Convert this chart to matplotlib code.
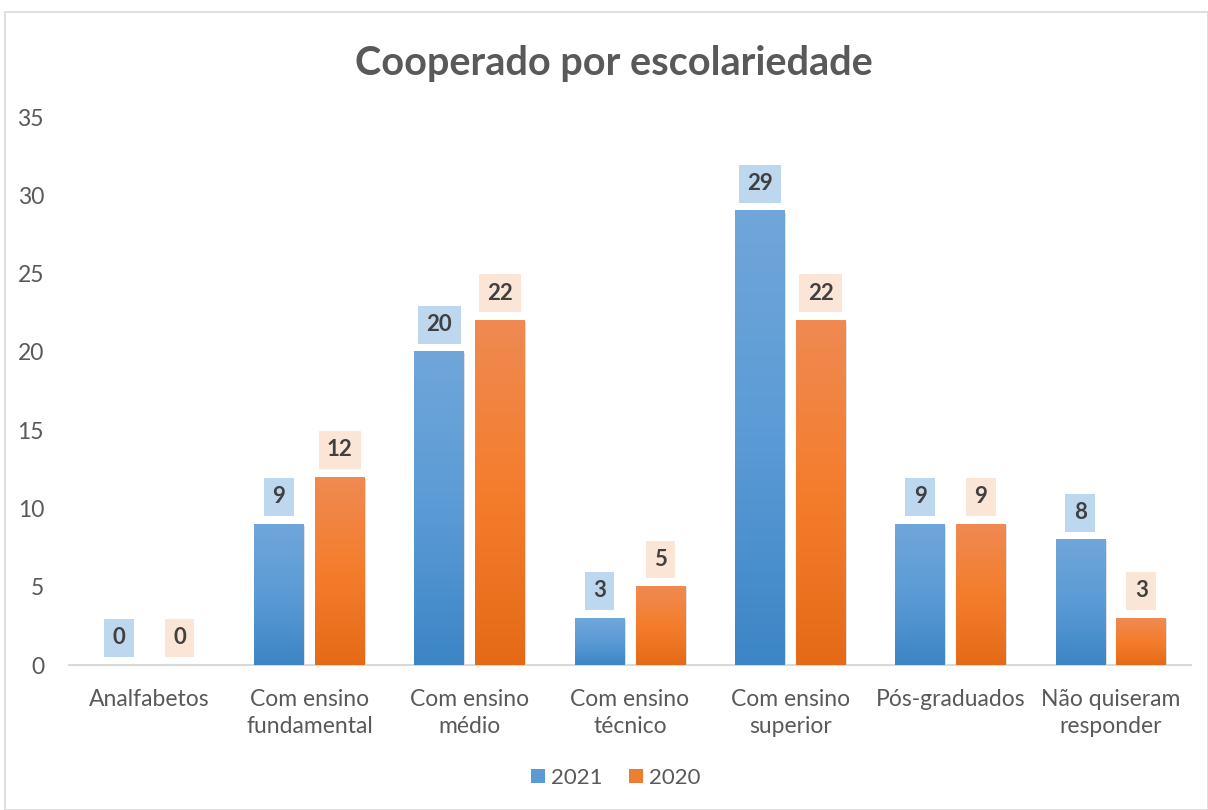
import numpy as np
import matplotlib.pyplot as plt
from matplotlib.patches import Rectangle
from matplotlib.colors import LinearSegmentedColormap

categorias = ['Analfabetos', 'Com ensino\nfundamental', 'Com ensino\nmédio', 'Com ensino\ntécnico',
              'Com ensino\nsuperior', 'Pós-graduados', 'Não quiseram\nresponder']
v2021 = [0, 9, 20, 3, 29, 9, 8]
v2020 = [0, 12, 22, 5, 22, 9, 3]
series = ['2021', '2020']

plt.rcParams['font.family'] = ['Lato', 'DejaVu Sans']

fig = plt.figure(figsize=(12.08, 8.10), dpi=100)
ax = fig.add_axes([69 / 1208, 1 - 665 / 810, 1122 / 1208, (665 - 117) / 810])

# moldura do gráfico
fig.patches.append(Rectangle((5 / 1208, 0), 1 - 5 / 1208, 1 - 12 / 810, transform=fig.transFigure,
                             fill=False, edgecolor='#d9d9d9', linewidth=1.2))

x = np.arange(len(categorias))
w = 0.31
off = 0.19

azul = LinearSegmentedColormap.from_list('az', ['#3d85c6', '#5b9bd5', '#70a6da'])
laranja = LinearSegmentedColormap.from_list('la', ['#e56a17', '#f47d2c', '#ef8a52'])
grad = np.linspace(0, 1, 256).reshape(-1, 1)

def barras(pos, vals, cmap, cor, caixa):
    bars = ax.bar(pos, vals, w, color=cor, zorder=2)
    for b, v in zip(bars, vals):
        x0 = b.get_x()
        if v > 0:
            # sombra leve
            ax.add_patch(Rectangle((x0 + 0.008, 0), w, v - 0.1, color='#000000', alpha=0.12, zorder=1.5,
                                   linewidth=0))
            ax.imshow(grad, cmap=cmap, extent=[x0, x0 + w, 0, v], origin='lower', aspect='auto', zorder=3)
        ax.annotate(str(v), (x0 + w / 2, v), xytext=(0, 12), textcoords='offset points',
                    ha='center', va='bottom', fontsize=16, fontweight='bold', color='#404040',
                    bbox=dict(boxstyle='square,pad=0.38', fc=caixa, ec='none'), zorder=4)
    return bars

b1 = barras(x - off, v2021, azul, '#5b9bd5', '#bdd7ee')
b2 = barras(x + off, v2020, laranja, '#ed7d31', '#fbe5d6')

ax.set_xlim(-0.5, len(categorias) - 0.5)
ax.set_ylim(0, 35)
ax.set_yticks(range(0, 36, 5))
ax.set_xticks(x)
ax.set_xticklabels(categorias, linespacing=1.4)
ax.tick_params(axis='both', length=0, labelsize=16.5, colors='#595959')
ax.tick_params(axis='x', pad=17)
ax.tick_params(axis='y', pad=18)
for s in ['top', 'right', 'left']:
    ax.spines[s].set_visible(False)
ax.spines['bottom'].set_color('#d9d9d9')
ax.spines['bottom'].set_linewidth(1.5)

fig.text(0.508, 1 - 63 / 810, 'Cooperado por escolariedade', ha='center', va='center',
         fontsize=28.5, fontweight='bold', color='#595959')

fig.legend([b1, b2], series, loc='center', bbox_to_anchor=(0.51, 1 - 778 / 810), ncol=2,
           frameon=False, fontsize=16, labelcolor='#595959', handlelength=0.6, handleheight=0.6,
           columnspacing=1.2, handletextpad=0.3)

fig.savefig('out.png', dpi=100)
